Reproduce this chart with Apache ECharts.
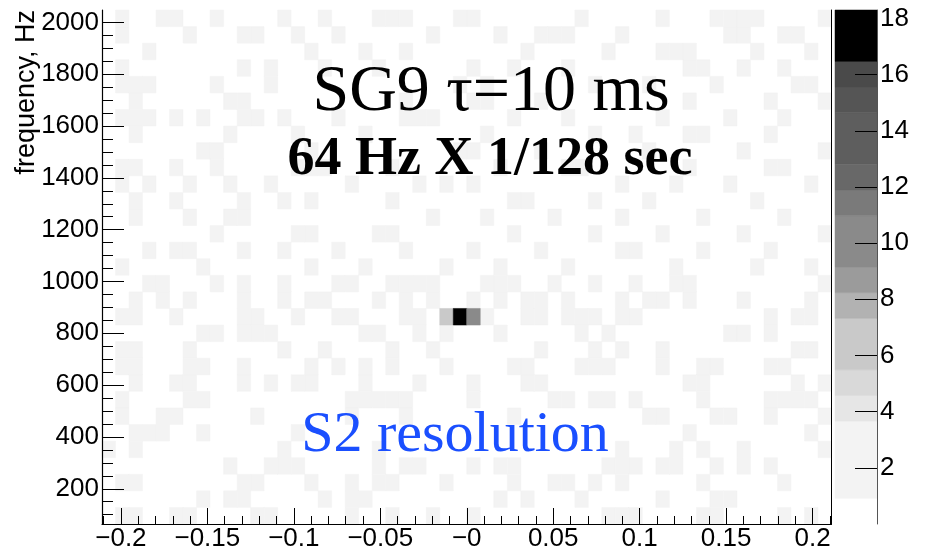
<!DOCTYPE html>
<html><head><meta charset="utf-8">
<script src="https://cdn.jsdelivr.net/npm/echarts@6/dist/echarts.min.js"></script>
<style>html,body{margin:0;padding:0;background:#fff}#c{width:928px;height:552px}</style>
</head><body><div id="c"></div>
<script>
// ---- binning (64 Hz x 1/128 s) ----
const timeBinWidth = 1 / 128;
const timeMin = -27 / 128;
const timeMax = 27 / 128;
const freqBinWidth = 64;
const freqMin = 64;
const freqMax = 2048;

// ---- background cells holding one count: column indices (0..53), rows listed from the top (2048 Hz) down ----
const noiseCols = [
  [1,4,5,8,13,16,20,21,22,26,27,35,41,45,46,47,48,53],
  [1,6,10,11,14,17,24,29,32,33,34,38,46,47,50,51],
  [3,15,19,22,31,37,41,42,43,48,52],
  [1,10,12,16,20,27,30,34,43,44,47,50],
  [1,2,3,8,12,26,28,36,40,45,51,52],
  [2,9,10,22,27,28,32,43,49,53],
  [1,2,3,5,7,10,11,13,17,22,23,24,30,34,41,46,50],
  [2,9,14,19,28,36,39,43,44,49],
  [7,8,15,26,27,32,40,47,53],
  [1,2,5,8,14,15,16,21,29,34,35,43,49,50],
  [1,3,6,9,12,18,23,25,27,38,42,46,52],
  [2,5,10,13,15,21,30,31,36,40,48],
  [2,6,9,10,24,28,33,38,44,50],
  [8,14,15,20,21,30,36,41,47,53],
  [3,5,6,10,13,17,22,27,32,38,39,44,49],
  [1,7,15,19,25,29,34,42,48,52],
  [3,4,8,10,13,17,18,21,22,23,24,28,29,30,33,36,39,42,43,53],
  [2,4,6,10,13,15,16,20,22,24,27,29,31,32,34,38,40,41,43,47,52],
  [1,2,5,10,11,14,17,18,22,23,28,31,32,34,35,36,38,39,49,51,52],
  [7,8,10,11,12,19,20,23,25,29,35,37,46,47,49],
  [1,2,6,13,16,21,24,32,36,38,41,51,52],
  [1,2,6,7,10,15,17,19,21,25,30,31,35,36,37,41,44,45,49,50],
  [2,5,6,10,12,14,15,19,23,27,31,32,43,44,51,53],
  [1,6,7,18,19,20,21,22,27,33,34,36,37,39,44,49,50,51,52],
  [1,4,5,11,18,22,30,40,41,45,46,49,53],
  [2,3,4,7,14,43,52],
  [0,2,13,20,38,42,44,47,53],
  [9,12,13,14,20,22,23,27,29,30,37,38,39,41,42,45,47,49],
  [1,2,10,11,15,18,20,21,25,30,33,34,36,38,44,50],
  [7,9,10,16,18,19,29,31,35,41,45,46],
  [1,2,5,6,11,12,18,21,24,27,37,38,39,44,45,50,52]
];
const noiseCount = 1;

// ---- the resolved signal: [time bin centre (s), frequency bin centre (Hz), count] ----
const peakCells = [
  [-0.01171875, 864, 6],
  [-0.00390625, 864, 18],
  [ 0.00390625, 864, 10]
];

// ---- axis ticks ----
const xTickValues = [-0.2, -0.15, -0.1, -0.05, 0, 0.05, 0.1, 0.15, 0.2];
const xTickLabels = ['\u22120.2', '\u22120.15', '\u22120.1', '\u22120.05', '\u22120', '0.05', '0.1', '0.15', '0.2'];
const yTickValues = [200, 400, 600, 800, 1000, 1200, 1400, 1600, 1800, 2000];
const yTickLabels = ['200', '400', '600', '800', '1000', '1200', '1400', '1600', '1800', '2000'];
const zTickValues = [2, 4, 6, 8, 10, 12, 14, 16, 18];
const zTickLabels = ['2', '4', '6', '8', '10', '12', '14', '16', '18'];
const zMax = 18.3;

// ---- colour palette bands: [from, to, colour] ----
const paletteBands = [
  [0.915, 3.66, '#f3f3f3'],
  [3.66, 4.575, '#e6e6e6'],
  [4.575, 5.49, '#d9d9d9'],
  [5.49, 7.32, '#c9c9c9'],
  [7.32, 8.235, '#b2b2b2'],
  [8.235, 9.15, '#9b9b9b'],
  [9.15, 10.98, '#8a8a8a'],
  [10.98, 11.895, '#7a7a7a'],
  [11.895, 12.81, '#686868'],
  [12.81, 14.64, '#5e5e5e'],
  [14.64, 15.555, '#555555'],
  [15.555, 16.47, '#4a4a4a'],
  [16.47, 18.3, '#000000']
];

// ---- build cell list ----
function colorFor(v) {
  for (const b of paletteBands) { if (v >= b[0] && v < b[1]) return b[2]; }
  return v >= zMax ? '#000000' : null;
}
const cells = [];
noiseCols.forEach((cols, r) => {
  const fHi = freqMax - r * freqBinWidth;
  cols.forEach(c => {
    const t0 = timeMin + c * timeBinWidth;
    cells.push([t0, t0 + timeBinWidth, fHi - freqBinWidth, fHi, noiseCount]);
  });
});
peakCells.forEach(p => {
  for (let i = cells.length - 1; i >= 0; i--) {
    if (Math.abs(cells[i][0] + timeBinWidth / 2 - p[0]) < 1e-9 && Math.abs(cells[i][2] + freqBinWidth / 2 - p[1]) < 1e-9) cells.splice(i, 1);
  }
  cells.push([p[0] - timeBinWidth / 2, p[0] + timeBinWidth / 2, p[1] - freqBinWidth / 2, p[1] + freqBinWidth / 2, p[2]]);
});

// minor tick positions
const xMinor = [];
for (let k = -21; k <= 21; k++) { if (k % 5 !== 0) xMinor.push(k / 100); }
const yMinor = [];
for (let f = 100; f <= 2000; f += 50) { if (f % 200 !== 0) yMinor.push(f); }

const sans = 'Liberation Sans, Arial, Helvetica, sans-serif';
const serif = 'Liberation Serif, Times New Roman, serif';

const chart = echarts.init(document.getElementById('c'), null, { renderer: 'canvas' });
chart.setOption({
  animation: false,
  backgroundColor: '#ffffff',
  grid: [
    { left: 102, top: 10, width: 729.5, height: 514 },
    { left: 835, top: 10, width: 42, height: 514 }
  ],
  xAxis: [
    {
      gridIndex: 0, type: 'value', min: timeMin, max: timeMax, position: 'bottom', z: 5,
      axisLine: { show: true, onZero: false, lineStyle: { color: '#000', width: 1.2 } },
      axisTick: { show: true, inside: true, length: 16, customValues: xTickValues, lineStyle: { color: '#000', width: 1 } },
      axisLabel: {
        show: true, customValues: xTickValues, margin: 2, color: '#000',
        fontFamily: sans, fontSize: 26,
        formatter: v => { const i = xTickValues.findIndex(t => Math.abs(t - v) < 1e-9); return i >= 0 ? xTickLabels[i] : ''; }
      },
      splitLine: { show: false }
    },
    {
      gridIndex: 0, type: 'value', min: timeMin, max: timeMax, position: 'bottom', z: 5,
      axisLine: { show: false, onZero: false },
      axisTick: { show: true, inside: true, length: 8, customValues: xMinor, lineStyle: { color: '#000', width: 1 } },
      axisLabel: { show: false }, splitLine: { show: false }
    },
    { gridIndex: 1, type: 'value', min: 0, max: 1, show: false }
  ],
  yAxis: [
    {
      gridIndex: 0, type: 'value', min: freqMin, max: freqMax, position: 'left', z: 5,
      axisLine: { show: true, onZero: false, lineStyle: { color: '#000', width: 1.2 } },
      axisTick: { show: true, inside: true, length: 22, customValues: yTickValues, lineStyle: { color: '#000', width: 1 } },
      axisLabel: {
        show: true, customValues: yTickValues, margin: 3, color: '#000',
        fontFamily: sans, fontSize: 26,
        formatter: v => { const i = yTickValues.indexOf(v); return i >= 0 ? yTickLabels[i] : ''; }
      },
      splitLine: { show: false }
    },
    {
      gridIndex: 0, type: 'value', min: freqMin, max: freqMax, position: 'left', z: 5,
      axisLine: { show: false, onZero: false },
      axisTick: { show: true, inside: true, length: 11, customValues: yMinor, lineStyle: { color: '#000', width: 1 } },
      axisLabel: { show: false }, splitLine: { show: false }
    },
    {
      gridIndex: 0, type: 'value', min: freqMin, max: freqMax, position: 'right', z: 5,
      axisLine: { show: true, onZero: false, lineStyle: { color: '#000', width: 1 } },
      axisTick: { show: false }, axisLabel: { show: false }, splitLine: { show: false }
    },
    {
      gridIndex: 1, type: 'value', min: 0, max: zMax, position: 'right', z: 5,
      axisLine: { show: true, onZero: false, lineStyle: { color: '#555', width: 1 } },
      axisTick: { show: true, inside: true, length: 22, customValues: zTickValues, lineStyle: { color: '#000', width: 1 } },
      axisLabel: {
        show: true, customValues: zTickValues, margin: 3, color: '#000',
        fontFamily: sans, fontSize: 26,
        formatter: v => { const i = zTickValues.indexOf(v); return i >= 0 ? zTickLabels[i] : ''; }
      },
      splitLine: { show: false }
    }
  ],
  series: [
    {
      type: 'custom', xAxisIndex: 0, yAxisIndex: 0, coordinateSystem: 'cartesian2d',
      data: cells, encode: { x: [0, 1], y: [2, 3] }, silent: true, z: 1,
      renderItem: (params, api) => {
        const p0 = api.coord([api.value(0), api.value(3)]);
        const p1 = api.coord([api.value(1), api.value(2)]);
        const col = colorFor(api.value(4));
        if (!col) return null;
        return { type: 'rect', shape: { x: p0[0], y: p0[1], width: p1[0] - p0[0], height: p1[1] - p0[1] },
                 style: { fill: col, stroke: col, lineWidth: 0.5 } };
      }
    },
    {
      type: 'custom', xAxisIndex: 2, yAxisIndex: 3, coordinateSystem: 'cartesian2d',
      data: paletteBands.map(b => [0, 1, b[0], b[1], b[2]]), encode: { x: [0, 1], y: [2, 3] }, silent: true, z: 1,
      renderItem: (params, api) => {
        const d = paletteBands[params.dataIndex];
        const p0 = api.coord([0, d[1]]);
        const p1 = api.coord([1, d[0]]);
        return { type: 'rect', shape: { x: p0[0], y: p0[1], width: p1[0] - p0[0], height: p1[1] - p0[1] },
                 style: { fill: d[2], stroke: d[2], lineWidth: 0.5 } };
      }
    }
  ],
  graphic: [
    { type: 'text', x: 27, y: 10, rotation: Math.PI / 2, z: 100,
      style: { text: 'frequency, Hz', font: '27px ' + sans, fill: '#000', align: 'right', verticalAlign: 'middle' } },
    { type: 'text', x: 491, y: 93, z: 100,
      style: { text: 'SG9 \u03c4=10 ms', font: '66px ' + serif, fill: '#000', align: 'center', verticalAlign: 'middle' } },
    { type: 'text', x: 490, y: 160, z: 100,
      style: { text: '64 Hz X 1/128 sec', font: 'bold 54px ' + serif, fill: '#000', align: 'center', verticalAlign: 'middle' } },
    { type: 'text', x: 455, y: 436, z: 100,
      style: { text: 'S2 resolution', font: '58px ' + serif, fill: '#1a4fff', align: 'center', verticalAlign: 'middle' } }
  ]
});
</script></body></html>
